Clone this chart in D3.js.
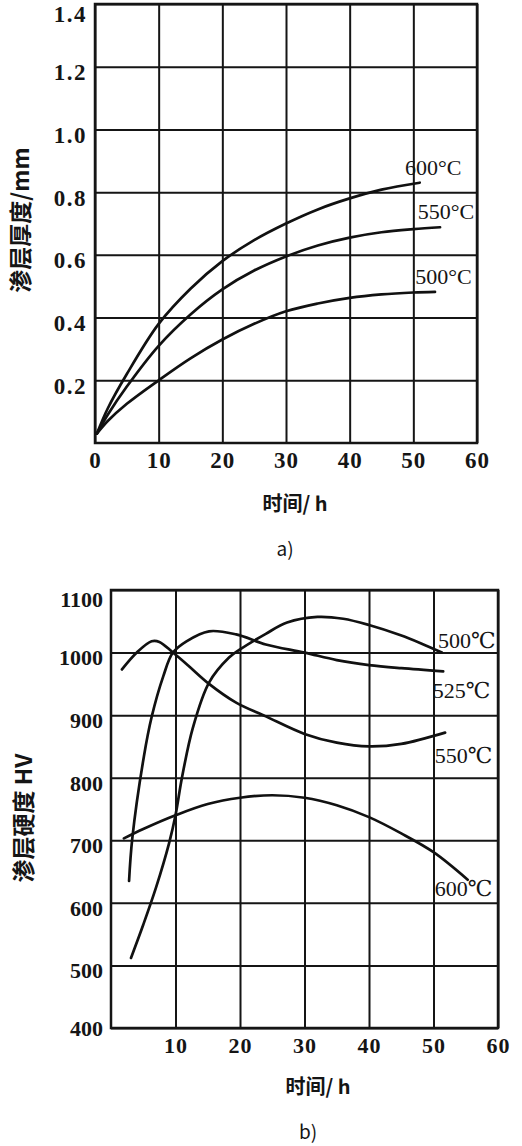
<!DOCTYPE html>
<html lang="zh">
<head>
<meta charset="UTF-8">
<title>渗层厚度与硬度</title>
<script src="https://d3js.org/d3.v7.min.js"></script>
<style>
  body { margin: 0; background: #fff; }
  .grid line { stroke: #151515; stroke-width: 2px; }
  .grid path { display: none; }
  .tick text { font-family: "Liberation Serif", "DejaVu Serif", serif; font-weight: bold; fill: #151515; }
  .frame { fill: none; stroke: #151515; stroke-width: 2.5px; }
  .curve { fill: none; stroke: #111; stroke-width: 2.7px; stroke-linecap: round; }
  .lbl { font-family: "Liberation Serif", "DejaVu Serif", serif; font-size: 22px; fill: #151515; }
  .title { font-family: "Noto Sans CJK SC", sans-serif; font-weight: bold; font-size: 20px; fill: #151515; }
</style>
</head>
<body>
<script>
// ---- chart a): layer depth (mm) vs time (h)
const timeTicksA = [0, 10, 20, 30, 40, 50, 60];
const depthTicks = [0.2, 0.4, 0.6, 0.8, 1.0, 1.2, 1.4];

const t600a = [0.3, 2, 5, 10, 15, 20, 25, 30, 35, 40, 45, 51];
const d600a = [0.03, 0.11, 0.22, 0.38, 0.492, 0.58, 0.647, 0.70, 0.745, 0.78, 0.808, 0.83];
const t550a = [0.3, 2, 5, 10, 15, 20, 25, 30, 35, 40, 45, 50, 54.2];
const d550a = [0.03, 0.09, 0.18, 0.31, 0.41, 0.49, 0.55, 0.595, 0.63, 0.655, 0.672, 0.682, 0.688];
const t500a = [0.3, 2, 5, 10, 15, 20, 25, 30, 35, 40, 45, 50, 53.4];
const d500a = [0.03, 0.07, 0.125, 0.20, 0.27, 0.33, 0.38, 0.42, 0.445, 0.463, 0.474, 0.48, 0.482];

const namesA = ['600°C', '550°C', '500°C'];
const labelTA = [48.7, 50.7, 50.3];
const labelVA = [0.88, 0.74, 0.533];

// ---- chart b): layer hardness HV vs time (h)
const timeTicksB = [10, 20, 30, 40, 50, 60];
const hvTicks = [400, 500, 600, 700, 800, 900, 1000, 1100];

const t500b = [3.1, 5, 7, 9, 10, 11, 12.7, 15.2, 18.3, 20, 24, 27.3, 32, 36, 40, 44.8, 48, 51.3];
const h500b = [512, 565, 625, 695, 740, 800, 880, 952, 992, 1005, 1030, 1048, 1057, 1054, 1044, 1028, 1015, 1000];
const t525b = [2.8, 3.3, 5.1, 6.3, 8.1, 9.6, 11.7, 15.2, 19.4, 24, 30, 35, 40, 45, 51.5];
const h525b = [635, 703, 834, 897, 962, 1000, 1018, 1034, 1029, 1013, 1000, 988, 980, 975, 970];
const t550b = [1.7, 4, 6.3, 7.5, 9.6, 12, 15.2, 19.4, 24, 30, 35, 40, 45, 51.8];
const h550b = [973, 1000, 1018, 1017, 1000, 979, 950, 920, 898, 870, 856, 850, 854, 872];
const t600b = [2, 5, 10, 15, 20, 25, 30, 35, 40, 45, 50, 55.3];
const h600b = [703, 718, 740, 758, 768, 772, 768, 756, 737, 711, 681, 637];

const namesB = ['500℃', '525℃', '550℃', '600℃'];
const labelTB = [50.7, 49.9, 50.2, 50.2];
const labelVB = [1020, 940, 836, 624];

const svg = d3.select('body').append('svg')
    .attr('width', 522)
    .attr('height', 1146);

const zip = (xs, ys) => xs.map((x, i) => [x, ys[i]]);

function panel(opt) {
    const x = d3.scaleLinear().domain([0, 60]).range([opt.left, opt.right]);
    const y = d3.scaleLinear().domain(opt.yDomain).range([opt.bottom, opt.top]);
    const g = svg.append('g');

    // vertical grid + bottom tick labels
    g.append('g')
        .attr('class', 'grid')
        .attr('transform', `translate(0,${opt.bottom})`)
        .call(d3.axisBottom(x).tickValues(opt.xTicks).tickSize(-(opt.bottom - opt.top)).tickPadding(9))
        .selectAll('text')
        .style('font-size', opt.tickFont + 'px')
        .attr('letter-spacing', 1);

    // horizontal grid + left tick labels (printed a little below their lines)
    const yMin = opt.yDomain[0], yMax = opt.yDomain[1];
    g.append('g')
        .attr('class', 'grid')
        .attr('transform', `translate(${opt.left},0)`)
        .call(d3.axisLeft(y).tickValues(opt.yTicks).tickFormat(opt.yFormat)
            .tickSize(-(opt.right - opt.left)).tickPadding(opt.yPad))
        .selectAll('text')
        .attr('dy', d => d === yMax ? '0.75em' : d === yMin ? '0.35em' : '0.56em')
        .style('font-size', opt.tickFont + 'px')
        .attr('letter-spacing', opt.yLetter);

    g.append('rect')
        .attr('class', 'frame')
        .attr('x', opt.left)
        .attr('y', opt.top)
        .attr('width', opt.right - opt.left)
        .attr('height', opt.bottom - opt.top);

    const line = d3.line()
        .x(d => x(d[0]))
        .y(d => y(d[1]))
        .curve(d3.curveCatmullRom.alpha(0.5));

    opt.series.forEach(s => {
        g.append('path').attr('class', 'curve').attr('d', line(s));
    });

    opt.names.forEach((n, i) => {
        g.append('text')
            .attr('class', 'lbl')
            .attr('x', x(opt.labelT[i]))
            .attr('y', y(opt.labelV[i]))
            .attr('dy', '0.35em')
            .text(n);
    });

    g.append('text')
        .attr('class', 'title')
        .attr('transform', `translate(${opt.yTitleX},${opt.yTitleY}) rotate(-90)`)
        .attr('text-anchor', 'middle')
        .attr('dy', '0.35em')
        .style('font-size', '23px')
        .text(opt.yTitle);

    g.append('text')
        .attr('class', 'title')
        .attr('x', opt.xTitleX)
        .attr('y', opt.xTitleY)
        .attr('text-anchor', 'middle')
        .attr('dy', '0.35em')
        .text('时间/ h');

    g.append('text')
        .attr('class', 'title')
        .attr('x', opt.xTitleX - 10)
        .attr('y', opt.xTitleY + 45)
        .attr('text-anchor', 'middle')
        .attr('dy', '0.35em')
        .style('font-weight', 'normal')
        .style('font-size', '19px')
        .text(opt.tag);
}

panel({
    left: 95, right: 477, top: 4, bottom: 443,
    yDomain: [0, 1.4],
    xTicks: timeTicksA, yTicks: depthTicks,
    yFormat: d3.format('.1f'), yPad: 8, yLetter: 1.5,
    tickFont: 23,
    series: [zip(t600a, d600a), zip(t550a, d550a), zip(t500a, d500a)],
    names: namesA, labelT: labelTA, labelV: labelVA,
    yTitle: '渗层厚度/mm', yTitleX: 21, yTitleY: 220,
    xTitleX: 295, xTitleY: 504, tag: 'a)'
});

panel({
    left: 111, right: 498, top: 590, bottom: 1028,
    yDomain: [400, 1100],
    xTicks: timeTicksB, yTicks: hvTicks,
    yFormat: d3.format('d'), yPad: 8, yLetter: 0,
    tickFont: 22,
    series: [zip(t500b, h500b), zip(t525b, h525b), zip(t550b, h550b), zip(t600b, h600b)],
    names: namesB, labelT: labelTB, labelV: labelVB,
    yTitle: '渗层硬度 HV', yTitleX: 24, yTitleY: 818,
    xTitleX: 318, xTitleY: 1087, tag: 'b)'
});
</script>
</body>
</html>
